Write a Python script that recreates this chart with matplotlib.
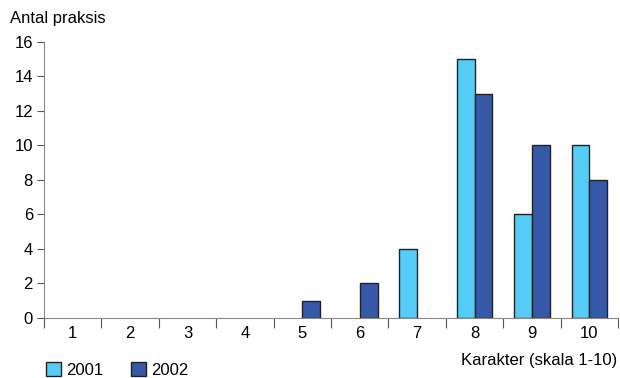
import matplotlib.pyplot as plt
import numpy as np

karakter = [1, 2, 3, 4, 5, 6, 7, 8, 9, 10]
antal_2001 = [0, 0, 0, 0, 0, 0, 4, 15, 6, 10]
antal_2002 = [0, 0, 0, 0, 1, 2, 0, 13, 10, 8]

plt.rcParams['font.family'] = ['Liberation Sans', 'DejaVu Sans']
fs = 12

fig = plt.figure(figsize=(6.2, 3.78), dpi=100)
ax = fig.add_axes([0.071, 0.159, 0.926, 0.730])

x = np.array(karakter)
w = 0.31
# no outline on empty bars
edge1 = ['#222222' if v > 0 else 'none' for v in antal_2001]
edge2 = ['#222222' if v > 0 else 'none' for v in antal_2002]
ax.bar(x - w/2, antal_2001, w, color='#55CCF5', edgecolor=edge1, linewidth=1, label='2001')
ax.bar(x + w/2, antal_2002, w, color='#3558A8', edgecolor=edge2, linewidth=1, label='2002')

ax.set_xlim(0.5, 10.5)
ax.set_ylim(0, 16)
ax.set_yticks(range(0, 17, 2))
ax.set_xticks(np.arange(0.5, 11, 1))
ax.set_xticklabels([])
ax.set_xticks(x, minor=True)
ax.set_xticklabels([str(k) for k in karakter], minor=True)
ax.tick_params(axis='x', which='minor', length=0, labelsize=fs, pad=6)
ax.tick_params(axis='x', which='major', length=7, color='#555555', direction='out')
ax.tick_params(axis='y', length=5, color='#555555', labelsize=fs, pad=3)

for s in ['top', 'right']:
    ax.spines[s].set_visible(False)
for s in ['left', 'bottom']:
    ax.spines[s].set_color('#888888')

fig.text(0.016, 0.952, 'Antal praksis', fontsize=fs, va='center', ha='left')
fig.text(0.995, 0.045, 'Karakter (skala 1-10)', fontsize=fs, va='center', ha='right')

h1 = plt.Rectangle((0, 0), 1, 1, facecolor='#55CCF5', edgecolor='#222222', linewidth=1)
h2 = plt.Rectangle((0, 0), 1, 1, facecolor='#3558A8', edgecolor='#222222', linewidth=1)
fig.legend([h1, h2], ['2001', '2002'], loc='center left', bbox_to_anchor=(0.074, 0.022), ncol=2,
           frameon=False, fontsize=fs, handlelength=0.9, handleheight=0.9, handletextpad=0.3,
           columnspacing=1.7, borderaxespad=0, borderpad=0)

fig.savefig('out.png')
